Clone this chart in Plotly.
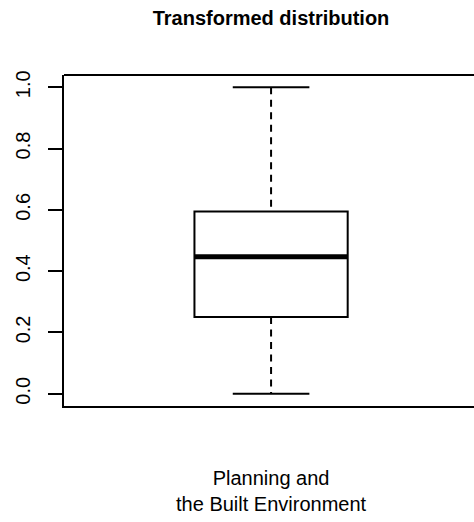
import plotly.graph_objects as go

# data
group = ["Planning and<br>the Built Environment"]
min_val = [0.0]
q1 = [0.25]
median = [0.447]
q3 = [0.595]
max_val = [1.0]
y_ticks = [0.0, 0.2, 0.4, 0.6, 0.8, 1.0]
y_tick_labels = ["0.0", "0.2", "0.4", "0.6", "0.8", "1.0"]

BOX_W = 0.37
CAP_W = BOX_W / 2
FONT = "Liberation Sans, Arial, sans-serif"
pos = list(range(len(group)))

fig = go.Figure()

# box body (no whiskers, those are drawn dashed below)
fig.add_trace(go.Box(
    x=pos, q1=q1, median=median, q3=q3,
    lowerfence=q1, upperfence=q3,
    width=BOX_W, whiskerwidth=0,
    fillcolor="white", line=dict(color="black", width=2),
    boxpoints=False, hoverinfo="skip", showlegend=False,
))

for i in pos:
    # dashed whiskers
    fig.add_trace(go.Scatter(
        x=[i, i, None, i, i],
        y=[max_val[i], q3[i], None, q1[i], min_val[i]],
        mode="lines", line=dict(color="black", width=2, dash="7px,5.5px"),
        hoverinfo="skip", showlegend=False,
    ))
    # staples
    fig.add_trace(go.Scatter(
        x=[i - CAP_W / 2, i + CAP_W / 2, None, i - CAP_W / 2, i + CAP_W / 2],
        y=[max_val[i], max_val[i], None, min_val[i], min_val[i]],
        mode="lines", line=dict(color="black", width=2),
        hoverinfo="skip", showlegend=False,
    ))
    # thick median
    fig.add_trace(go.Scatter(
        x=[i - BOX_W / 2, i + BOX_W / 2],
        y=[median[i], median[i]],
        mode="lines", line=dict(color="black", width=5),
        hoverinfo="skip", showlegend=False,
    ))

# top edge of the frame, running off the right side like the reference
fig.add_shape(type="line", xref="paper", yref="paper",
              x0=0, x1=1.05, y0=1, y1=1,
              line=dict(color="black", width=2))

fig.update_layout(
    width=474, height=522,
    margin=dict(l=64, r=0, t=75, b=116),
    paper_bgcolor="white", plot_bgcolor="white",
    font=dict(family=FONT, size=20, color="black"),
    title=dict(
        text="<b>Transformed distribution</b>",
        x=(271 / 474), xref="container", xanchor="center",
        y=1 - 18 / 522, yref="container", yanchor="middle",
        font=dict(size=20, color="black"),
    ),
    xaxis=dict(
        range=[-0.5, 0.49], tickvals=pos, ticktext=group,
        showline=True, linecolor="black", linewidth=2,
        ticks="", showgrid=False, zeroline=False,
        ticklabelstandoff=53, automargin=False,
        tickfont=dict(size=20),
    ),
    yaxis=dict(
        range=[-0.04, 1.04], tickvals=y_ticks, ticktext=y_tick_labels,
        showline=True, linecolor="black", linewidth=2,
        ticks="outside", ticklen=14, tickwidth=2, tickcolor="black",
        tickangle=-90, ticklabelstandoff=10,
        showgrid=False, zeroline=False, automargin=False,
        tickfont=dict(size=20),
    ),
)

fig.write_html("out.html", config={"displayModeBar": False},
               post_script="document.body.style.margin='0';")
